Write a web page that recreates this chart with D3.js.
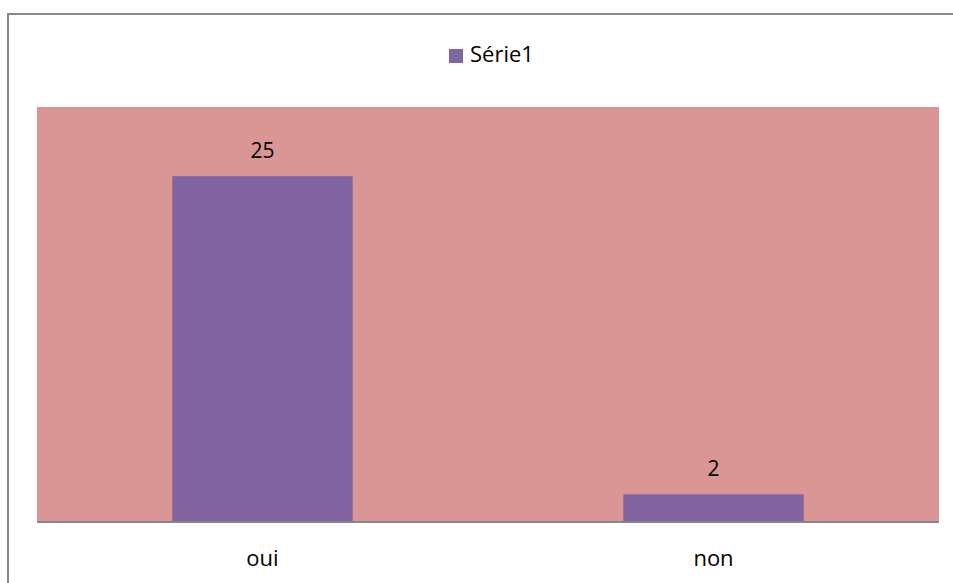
<!DOCTYPE html>
<html>
<head>
<meta charset="utf-8">
<script src="https://cdn.jsdelivr.net/npm/d3@7"></script>
<style>
  html, body { margin: 0; padding: 0; background: #ffffff; }
  svg { display: block; }
  text { font-family: "Open Sans", "Liberation Sans", sans-serif; fill: #000; }
</style>
</head>
<body>
<script>
// Réponses au questionnaire
const categories = ["oui", "non"];
const values = [25, 2];
const seriesName = "Série1";
const yMax = 30;

const W = 953, H = 583;
const plot = { left: 37, right: 939, top: 107, bottom: 522 };
const fontStack = "\"Open Sans\", \"Liberation Sans\", sans-serif";

const svg = d3.select("body").append("svg")
  .attr("width", W).attr("height", H);

// Cadre du graphique
svg.append("rect")
  .attr("x", 8).attr("y", 14)
  .attr("width", W).attr("height", H)
  .attr("fill", "#ffffff")
  .attr("stroke", "#878787")
  .attr("stroke-width", 2);

const x = d3.scaleBand()
  .domain(categories)
  .range([plot.left, plot.right])
  .paddingInner(0.6)
  .paddingOuter(0.3);

const y = d3.scaleLinear()
  .domain([0, yMax])
  .range([plot.bottom, plot.top]);

// Zone de traçage
svg.append("rect")
  .attr("x", plot.left).attr("y", plot.top)
  .attr("width", plot.right - plot.left)
  .attr("height", plot.bottom - plot.top)
  .attr("fill", "#d99694");

// Barres
svg.selectAll("rect.bar")
  .data(values)
  .join("rect")
  .attr("class", "bar")
  .attr("x", (d, i) => x(categories[i]))
  .attr("y", d => y(d))
  .attr("width", x.bandwidth())
  .attr("height", d => y(0) - y(d))
  .attr("fill", "#8064a2");

// Étiquettes de données
svg.selectAll("text.value")
  .data(values)
  .join("text")
  .attr("class", "value")
  .attr("x", (d, i) => x(categories[i]) + x.bandwidth() / 2)
  .attr("y", d => y(d) - 18)
  .attr("text-anchor", "middle")
  .attr("font-size", 21)
  .text(d => d);

// Axe horizontal
const xAxis = svg.append("g")
  .attr("transform", `translate(0,${plot.bottom})`)
  .call(d3.axisBottom(x).tickSize(0).tickPadding(28));
xAxis.select(".domain")
  .attr("stroke", "#868686")
  .attr("stroke-width", 2)
  .attr("d", `M${plot.left},0H${plot.right}`);
xAxis.selectAll(".tick text")
  .attr("font-size", 22)
  .attr("font-family", fontStack)
  .attr("fill", "#000");

// Légende
const legend = svg.append("g").attr("transform", "translate(449,49)");
legend.append("rect")
  .attr("width", 14).attr("height", 14)
  .attr("fill", "#8064a2");
legend.append("text")
  .attr("x", 21).attr("y", 13)
  .attr("font-size", 22)
  .text(seriesName);
</script>
</body>
</html>
